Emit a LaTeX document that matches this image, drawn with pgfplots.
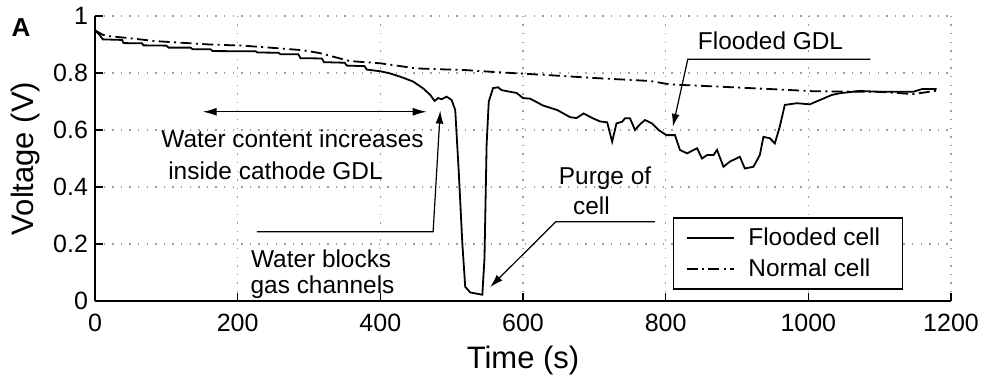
\documentclass[border=0pt]{standalone}
\usepackage{fontspec}
\setmainfont{Liberation Sans}
\usepackage{pgfplots}
\pgfplotsset{compat=1.18}
\usetikzlibrary{arrows.meta}

% Cell voltage traces: flooded cell and normal cell
\pgfplotstableread{
t V
0 0.950
6 0.935
11 0.918
38 0.916
40 0.905
66 0.904
68 0.897
100 0.896
103 0.889
134 0.889
137 0.883
162 0.883
165 0.877
225 0.876
228 0.872
257 0.871
260 0.866
285 0.866
288 0.852
318 0.851
321 0.838
350 0.836
353 0.826
378 0.824
381 0.812
400 0.806
413 0.799
428 0.787
446 0.770
460 0.746
470 0.723
476 0.702
481 0.712
486 0.708
493 0.717
500 0.705
505 0.670
510 0.450
515 0.200
519 0.050
526 0.030
543 0.022
546 0.150
549 0.550
552 0.700
558 0.747
565 0.750
570 0.740
582 0.734
591 0.730
600 0.712
610 0.710
628 0.686
648 0.670
666 0.645
675 0.642
685 0.658
698 0.641
708 0.630
718 0.627
725 0.559
731 0.623
739 0.629
743 0.641
750 0.641
757 0.600
764 0.620
771 0.635
781 0.623
790 0.600
801 0.582
813 0.582
820 0.530
830 0.518
844 0.536
851 0.500
858 0.512
867 0.512
872 0.530
881 0.471
890 0.489
904 0.506
911 0.465
923 0.471
932 0.512
937 0.576
946 0.571
953 0.553
960 0.612
967 0.688
984 0.694
1002 0.690
1016 0.705
1033 0.723
1044 0.729
1072 0.737
1100 0.734
1128 0.734
1147 0.734
1160 0.744
1180 0.744
}\flooded

\pgfplotstableread{
t V
0 0.950
10 0.935
17 0.930
49 0.922
84 0.912
122 0.906
161 0.900
207 0.896
245 0.889
291 0.880
315 0.870
357 0.842
400 0.834
451 0.816
521 0.810
563 0.803
633 0.793
703 0.782
778 0.772
806 0.760
876 0.752
960 0.742
1007 0.736
1100 0.734
1147 0.726
1180 0.738
}\normal

\begin{document}
\begin{tikzpicture}[
  note/.style={font=\fontsize{12.2}{14}\selectfont, anchor=base, inner sep=0pt},
  callout/.style={line width=0.6pt, -{Latex[length=6.5pt,width=4pt]}}
]
\begin{axis}[
  scale only axis,
  width=428pt, height=142.5pt,
  xmin=0, xmax=1200, ymin=0, ymax=1,
  axis x line*=bottom, axis y line*=left,
  axis line style={line width=0.8pt},
  xtick={0,200,400,600,800,1000,1200},
  ytick={0,0.2,0.4,0.6,0.8,1},
  yticklabels={0,0.2,0.4,0.6,0.8,1},
  tick align=inside,
  major tick length=4pt,
  tick style={line width=0.8pt, black},
  grid=major,
  major grid style={gray!75, line width=0.7pt, dash pattern=on 0.7pt off 3.6pt},
  tick label style={font=\fontsize{12.5}{14}\selectfont},
  xticklabel style={yshift=-3pt},
  /pgf/number format/assume math mode=true,
  /pgf/number format/1000 sep={},
  xlabel={Time (s)}, ylabel={Voltage (V)},
  label style={font=\fontsize{15.5}{18}\selectfont},
  xlabel style={yshift=-0.5pt},
  clip=false,
  legend style={at={(rel axis cs:0.675,0.295)}, anchor=north west,
    draw=black, line width=0.8pt, fill=white,
    font=\fontsize{12.2}{14}\selectfont,
    inner xsep=6pt, inner ysep=3pt, row sep=1pt,
    cells={anchor=west}},
  legend image code/.code={\draw[#1] (0pt,0pt) -- (23.5pt,0pt);},
]
\addplot[black, line width=0.9pt] table[x=t, y=V] {\flooded};
\addlegendentry{\makebox[74pt][l]{\hspace{5pt}Flooded cell}}
\addplot[black, line width=0.9pt, dash pattern=on 5.5pt off 2.2pt on 1pt off 2.2pt] table[x=t, y=V] {\normal};
\addlegendentry{\makebox[74pt][l]{\hspace{5pt}Normal cell}}

% panel tag
\node[font=\bfseries\fontsize{13}{15}\selectfont] at (rel axis cs:-0.0864,0.958) {A};

% annotations
\draw[line width=0.6pt, {Latex[length=7pt,width=4pt]}-{Latex[length=7pt,width=4pt]}]
  (axis cs:151,0.664) -- (axis cs:465,0.664);
\node[note] at (axis cs:277,0.537) {Water content increases};
\node[note] at (axis cs:253,0.425) {inside cathode GDL};

\draw[callout] (axis cs:227,0.243) -- (axis cs:474,0.243) -- (axis cs:484,0.668);
\node[note] at (axis cs:317,0.119) {Water blocks};
\node[note] at (axis cs:319,0.028) {gas channels};

\draw[callout] (axis cs:785,0.278) -- (axis cs:646,0.278) -- (axis cs:554,0.049);
\node[note] at (axis cs:715,0.41) {Purge of};
\node[note] at (axis cs:696,0.302) {cell};

\draw[callout] (axis cs:1087,0.848) -- (axis cs:831,0.848) -- (axis cs:810,0.611);
\node[note] at (axis cs:947,0.881) {Flooded GDL};
\end{axis}
\pgfresetboundingbox
\path[use as bounding box] ([shift={(-47.5pt,-37pt)}]current axis.south west)
  rectangle ([shift={(19.5pt,8pt)}]current axis.north east);
\end{tikzpicture}
\end{document}
